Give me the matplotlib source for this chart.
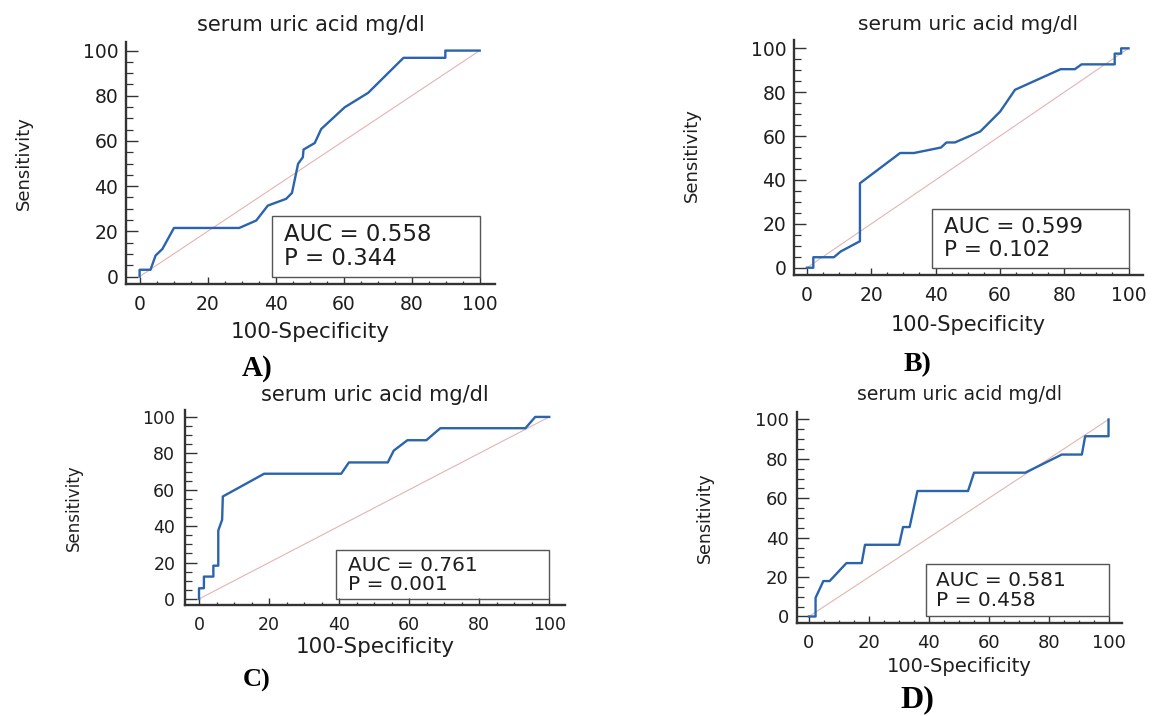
import matplotlib
matplotlib.use("Agg")
import matplotlib.pyplot as plt
from matplotlib.ticker import MultipleLocator
from matplotlib.patches import Rectangle

# ROC curves (x = 100-Specificity, y = Sensitivity)
a_x = [0, 0, 3.2, 4.7, 6.7, 10.1, 29.3, 34.3, 37.7, 43.1, 44.8, 46.6, 48.0, 48.2, 51.5, 53.4, 60.3, 67.2, 77.6, 89.9, 89.9, 100]
a_y = [0, 3, 3, 9.3, 12.2, 21.5, 21.5, 24.8, 31.4, 34.4, 37.0, 49.9, 52.8, 56.2, 59.1, 65.3, 74.9, 81.3, 96.8, 96.8, 100, 100]

b_x = [0, 2, 2, 8.4, 10.5, 16.5, 16.5, 29.0, 33.3, 41.7, 43.4, 46.0, 53.9, 60.1, 64.7, 78.9, 83.3, 85.4, 95.7, 95.7, 97.7, 97.7, 100]
b_y = [0, 0, 4.8, 4.8, 7.4, 12.1, 38.5, 52.3, 52.3, 54.8, 57.1, 57.1, 62.1, 71.2, 81.1, 90.5, 90.5, 92.7, 92.7, 97.6, 97.6, 100, 100]

c_x = [0, 0, 1.4, 1.4, 4.1, 4.1, 5.5, 5.5, 6.6, 6.8, 18.6, 40.6, 42.8, 53.9, 55.6, 59.5, 64.9, 68.9, 93.2, 96.0, 100]
c_y = [0, 5.9, 5.9, 12.3, 12.3, 18.3, 18.3, 37.6, 43.5, 56.3, 68.8, 68.8, 75.0, 75.0, 81.5, 87.2, 87.2, 93.8, 93.8, 100, 100]

d_x = [0, 2.2, 2.2, 4.8, 6.9, 12.5, 17.6, 18.7, 30.1, 31.4, 33.6, 36.2, 53.1, 55.1, 72.2, 84.4, 91.1, 92.2, 100, 100]
d_y = [0, 0, 9.5, 18.0, 18.0, 27.1, 27.1, 36.4, 36.4, 45.4, 45.4, 63.7, 63.7, 73.0, 73.0, 82.2, 82.2, 91.5, 91.5, 100]

auc_values = ["0.558", "0.599", "0.761", "0.581"]
p_values = ["0.344", "0.102", "0.001", "0.458"]
panel_labels = ["A)", "B)", "C)", "D)"]
title = "serum uric acid mg/dl"

W, H = 1152, 716
fig = plt.figure(figsize=(W / 100, H / 100), dpi=100)

def fx(px):
    return px / W

def fy(py):
    return 1 - py / H

# layout in pixels: axes box, title y, xlabel y, ylabel xy, panel label xy, font sizes
panels = [
    dict(x=a_x, y=a_y, box=(126, 42, 495, 284), ty=25, xly=332, yl=(24, 163), pl=(257, 368),
         tick=13.5, tfs=15, xfs=15.5, yfs=13, afs=16.5, pfs=21, ypad=5.5),
    dict(x=b_x, y=b_y, box=(794, 40, 1143, 275), ty=24, xly=325, yl=(692, 155), pl=(917, 365),
         tick=13.5, tfs=14.5, xfs=15, yfs=13, afs=15.5, pfs=20, ypad=5.5),
    dict(x=c_x, y=c_y, box=(185, 410, 565, 605), ty=395, xly=647, yl=(74, 508), pl=(257, 680),
         tick=12.5, tfs=15, xfs=15.5, yfs=12, afs=14.5, pfs=19, ypad=7),
    dict(x=d_x, y=d_y, box=(797, 412, 1122, 623), ty=395, xly=666, yl=(705, 518), pl=(917, 700),
         tick=13, tfs=13.5, xfs=14, yfs=12.5, afs=14.5, pfs=23, ypad=6),
]

ink = "#1e1e1e"
for i, p in enumerate(panels):
    x0, y0, x1, y1 = p["box"]
    ax = fig.add_axes([fx(x0), fy(y1), fx(x1 - x0), (y1 - y0) / H])
    ax.set_xlim(-4, 104.5)
    ax.set_ylim(-3.3, 103.8)
    ax.plot([0, 100], [0, 100], color="#e5b3b3", lw=0.8, zorder=1)
    ax.plot(p["x"], p["y"], color="#2a64ad", lw=1.7, zorder=3)

    ax.add_patch(Rectangle((39, 0), 61, 26.7, fill=False, edgecolor="#555555", lw=1.0, zorder=2))
    ax.text(42.5, 18.5, "AUC = " + auc_values[i], fontsize=p["afs"], va="center", color=ink)
    ax.text(42.5, 8, "P = " + p_values[i], fontsize=p["afs"], va="center", color=ink)

    for side in ["top", "right"]:
        ax.spines[side].set_visible(False)
    for side in ["left", "bottom"]:
        ax.spines[side].set_linewidth(1.7)
        ax.spines[side].set_color("#333333")
    ax.xaxis.set_major_locator(MultipleLocator(20))
    ax.xaxis.set_minor_locator(MultipleLocator(5))
    ax.yaxis.set_major_locator(MultipleLocator(20))
    ax.yaxis.set_minor_locator(MultipleLocator(5))
    ax.tick_params(axis="x", which="major", direction="in", length=4.7, width=1.0, pad=8,
                   labelsize=p["tick"], colors="#333333", labelcolor=ink)
    ax.tick_params(axis="x", which="minor", direction="in", length=2.2, width=0.9, colors="#333333")
    ax.tick_params(axis="y", which="major", direction="in", length=8.6, width=1.0, pad=p["ypad"],
                   labelsize=p["tick"], colors="#333333", labelcolor=ink)
    ax.tick_params(axis="y", which="minor", direction="in", length=4.7, width=0.9, colors="#333333")

    cx = (x0 + x1) / 2
    fig.text(fx(cx), fy(p["ty"]), title, fontsize=p["tfs"], ha="center", va="center", color=ink)
    fig.text(fx(cx), fy(p["xly"]), "100-Specificity", fontsize=p["xfs"], ha="center", va="center", color=ink)
    fig.text(fx(p["yl"][0]), fy(p["yl"][1]), "Sensitivity", fontsize=p["yfs"], rotation=90,
             ha="center", va="center", color=ink)
    fig.text(fx(p["pl"][0]), fy(p["pl"][1]), panel_labels[i], fontsize=p["pfs"], fontweight="bold",
             family="Liberation Serif", ha="center", va="center", color="black")

fig.savefig("out.png", dpi=100)
